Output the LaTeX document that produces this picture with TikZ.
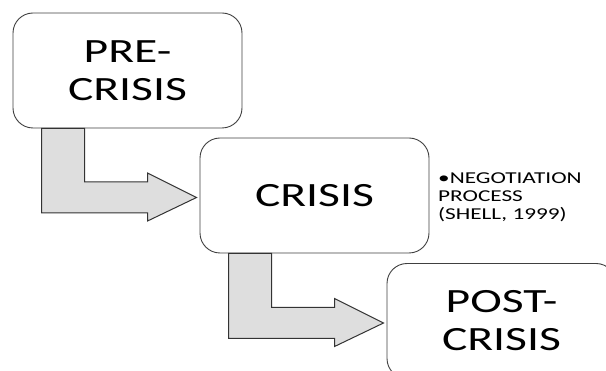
\documentclass[tikz,border=0pt]{standalone}
\usepackage{fontspec}
\setmainfont{Carlito}
\newfontfamily\stagefont[FakeStretch=1.4]{Carlito}
\usetikzlibrary{calc}
\tikzset{
  stagebox/.style={draw=black!75, rounded corners=20pt, line width=.9pt, fill=white,
    minimum width=229pt, minimum height=115pt, align=center, inner sep=0pt,
    font=\stagefont\fontsize{34}{38}\selectfont},
  notetext/.style={align=left, anchor=north west, inner sep=0pt,
    font=\stagefont\fontsize{16.6}{18}\selectfont},
  bentarrow/.style={draw=black!80, line width=1pt, fill=gray!26, line join=miter}
}
% L-shaped block arrow: down out of #1, then right into #2
\newcommand{\stagearrow}[2]{
  \draw[bentarrow] ($(#1.south west)+(29,0)$) coordinate (#1s) -- ++(43,0)
    |- ($(#2.west)+(-52,-13.5)$) -- ++(0,-9) -- ($(#2.west)+(-3,2)$)
    -- ($(#2.west)+(-52,25.5)$) -- ++(0,-8) -| (#1s) -- cycle;
}

\begin{document}
\begin{tikzpicture}[x=1pt, y=-1pt]
  \useasboundingbox (0,0) rectangle (606,371);
  \clip (0,0) rectangle (606,371);

  \node[stagebox] (pre) at (127.5,70.5) {PRE-\\CRISIS};
  \node[stagebox] (crisis) at (314.5,195.5) {CRISIS};
  \node[stagebox] (post) at (501.5,321) {POST-\\CRISIS};

  \stagearrow{pre}{crisis}
  \stagearrow{crisis}{post}

  \node[notetext] (note) at (438,173) {\textbullet NEGOTIATION\\PROCESS\\(SHELL, 1999)};
\end{tikzpicture}
\end{document}
